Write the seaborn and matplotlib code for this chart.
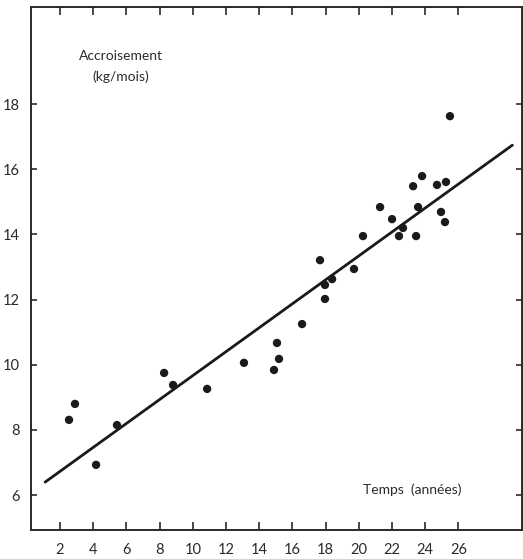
import matplotlib
matplotlib.use("Agg")
import matplotlib.pyplot as plt
import seaborn as sns
import pandas as pd

# Growth rate versus time
temps = [2.54, 2.90, 4.17, 5.43, 8.27, 8.81, 10.86, 13.08, 14.89, 15.07,
         15.19, 16.58, 17.66, 17.96, 17.96, 18.39, 19.71, 20.25, 21.28, 22.00,
         22.42, 22.66, 23.27, 23.45, 23.57, 23.81, 24.71, 24.95, 25.19, 25.25,
         25.49]
accroissement = [8.31, 8.80, 6.93, 8.15, 9.75, 9.38, 9.26, 10.06, 9.84, 10.67,
                 10.18, 11.25, 13.21, 12.02, 12.45, 12.63, 12.94, 13.95, 14.84, 14.47,
                 13.95, 14.20, 15.48, 13.95, 14.84, 15.79, 15.52, 14.69, 14.38, 15.61,
                 17.63]

# Fitted regression line endpoints
fit_x = [1.10, 29.25]
fit_y = [6.40, 16.74]

x_ticks = [2, 4, 6, 8, 10, 12, 14, 16, 18, 20, 22, 24, 26]
y_ticks = [6, 8, 10, 12, 14, 16, 18]

sns.set_theme(style="white")
plt.rcParams["font.family"] = ["Lato", "DejaVu Sans"]

fig = plt.figure(figsize=(5.23, 5.59), dpi=100)
ax = fig.add_axes([31 / 523, 29 / 559, 491 / 523, 523 / 559])

pts = pd.DataFrame({"t": temps, "a": accroissement})
line = pd.DataFrame({"t": fit_x, "a": fit_y})

sns.lineplot(data=line, x="t", y="a", ax=ax, color="#1a1a1a", linewidth=2.0)
sns.scatterplot(data=pts, x="t", y="a", ax=ax, color="#1a1a1a", s=36,
                edgecolor="none", zorder=3)

ax.set_xlim(0.25, 29.83)
ax.set_ylim(4.93, 20.98)
ax.set_xticks(x_ticks)
ax.set_yticks(y_ticks)
ax.set_xticklabels([str(v) for v in x_ticks])
ax.set_yticklabels([str(v) for v in y_ticks])
ax.set_xlabel("")
ax.set_ylabel("")

for s in ax.spines.values():
    s.set_visible(True)
    s.set_color("#2a2a2a")
    s.set_linewidth(1.4)

ax.tick_params(axis="x", direction="in", length=6, width=1.2, color="#2a2a2a",
               top=True, bottom=True, labeltop=False, pad=9,
               labelsize=10.5, labelcolor="#2a2a2a")
ax.tick_params(axis="y", direction="in", length=4.5, width=1.2, color="#2a2a2a",
               left=True, right=True, labelright=False, pad=8,
               labelsize=10.5, labelcolor="#2a2a2a")

ax.text(5.67, 19.47, "Accroisement", ha="center", va="center",
        fontsize=10, color="#2a2a2a")
ax.text(5.67, 18.83, "(kg/mois)", ha="center", va="center",
        fontsize=10, color="#2a2a2a")
ax.text(23.2, 6.16, "Temps  (années)", ha="center", va="center",
        fontsize=10, color="#2a2a2a")

fig.savefig("out.png", dpi=100)
